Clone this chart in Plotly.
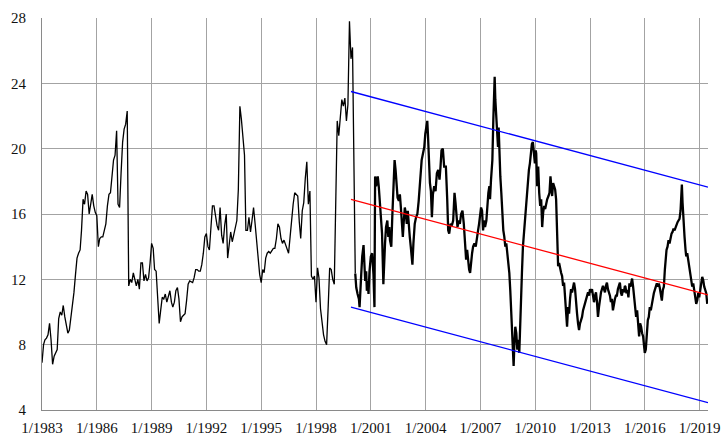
import pandas as pd
import plotly.graph_objects as go

# ---------------- data ----------------
monthly_start = "1983-01-01"
monthly_values = [
    6.9, 8.0, 8.3, 8.4, 8.6, 9.3, 8.3, 6.8, 7.3, 7.5, 7.7, 9.6,          # 1983
    10.0, 9.8, 10.4, 9.7, 9.2, 8.7, 8.9, 9.6, 10.4, 11.2, 12.3, 13.3,    # 1984
    13.6, 13.8, 15.0, 16.9, 16.6, 17.4, 17.2, 16.0, 16.6, 17.2, 16.5, 16.1,  # 1985
    15.9, 14.0, 14.5, 14.6, 14.6, 15.1, 15.4, 16.5, 17.2, 17.3, 18.6, 19.3,  # 1986
    19.6, 21.1, 16.6, 16.4, 18.5, 20.4, 21.2, 21.5, 22.3, 11.6, 12.0, 11.8,  # 1987
    12.4, 12.0, 11.6, 12.0, 11.4, 13.0, 13.0, 11.9, 12.3, 11.9, 12.1, 13.0,  # 1988
    14.2, 13.9, 12.6, 12.5, 10.8, 9.3, 10.1, 10.9, 10.8, 11.1, 10.6, 10.9,   # 1989
    11.3, 10.6, 10.3, 10.6, 11.3, 11.5, 10.8, 9.4, 9.7, 9.8, 9.9, 10.7,      # 1990
    11.7, 11.9, 11.85, 11.8, 12.1, 12.6, 12.6, 12.5, 12.5, 12.9, 13.6, 14.6, # 1991
    14.8, 14.0, 13.8, 15.2, 16.5, 16.5, 15.8, 15.3, 15.0, 16.4, 14.7, 14.2,  # 1992
    15.3, 16.0, 13.3, 14.1, 14.9, 14.3, 14.8, 15.2, 15.6, 17.5, 22.6, 21.8,  # 1993
    20.8, 19.6, 15.0, 15.0, 15.8, 14.9, 15.6, 16.4, 15.4, 14.4, 13.4, 12.3,  # 1994
    11.8, 12.6, 12.4, 13.3, 13.6, 13.7, 13.6, 13.8, 13.9, 13.9, 14.5, 15.4,  # 1995
    15.2, 14.5, 14.2, 14.4, 14.1, 13.8, 13.6, 14.6, 15.8, 16.6, 17.3, 17.2,  # 1996
    17.1, 15.5, 14.5, 16.2, 16.7, 18.2, 19.2, 16.6, 17.4, 12.2, 12.0, 12.2,  # 1997
    10.6, 12.7, 12.1, 10.2, 9.4, 8.6, 8.2, 8.0, 10.3, 12.7, 12.6, 12.0,      # 1998
    11.7, 16.5, 21.7, 20.8, 22.0, 23.0, 22.6, 23.1, 21.7, 22.7, 27.8, 25.5,  # 1999
    26.2,                                                                    # 2000
]

daily_years = [
    2000.150, 2000.204, 2000.277, 2000.349, 2000.385, 2000.421, 2000.476, 2000.530,
    2000.602, 2000.638, 2000.693, 2000.747, 2000.783, 2000.837, 2000.873, 2000.928,
    2001.000, 2001.072, 2001.145, 2001.199, 2001.235, 2001.289, 2001.325, 2001.380,
    2001.434, 2001.506, 2001.561, 2001.615, 2001.687, 2001.723, 2001.778, 2001.832,
    2001.904, 2001.958, 2002.013, 2002.049, 2002.121, 2002.175, 2002.230, 2002.302,
    2002.356, 2002.410, 2002.465, 2002.537, 2002.591, 2002.646, 2002.700, 2002.754,
    2002.808, 2002.863, 2002.917, 2002.971, 2003.025, 2003.080, 2003.134, 2003.188,
    2003.242, 2003.278, 2003.333, 2003.405, 2003.477, 2003.550, 2003.622, 2003.676,
    2003.731, 2003.785, 2003.857, 2003.929, 2003.984, 2004.038, 2004.092, 2004.128,
    2004.183, 2004.237, 2004.291, 2004.345, 2004.400, 2004.472, 2004.544, 2004.617,
    2004.689, 2004.761, 2004.816, 2004.870, 2004.942, 2005.014,
    2005.109, 2005.145, 2005.182, 2005.236, 2005.291, 2005.364, 2005.436, 2005.509,
    2005.582, 2005.636, 2005.691, 2005.745, 2005.818, 2005.873, 2005.945, 2006.018,
    2006.091, 2006.164, 2006.218, 2006.273, 2006.327, 2006.382, 2006.436, 2006.491,
    2006.545, 2006.600, 2006.673, 2006.745, 2006.800, 2006.873, 2006.927, 2006.982,
    2007.036, 2007.091, 2007.145, 2007.200, 2007.255, 2007.327, 2007.382, 2007.436,
    2007.491, 2007.527, 2007.582, 2007.655, 2007.709, 2007.745, 2007.782, 2007.818,
    2007.855, 2007.909, 2007.964, 2008.000, 2008.036, 2008.091, 2008.145, 2008.200,
    2008.255, 2008.309, 2008.364, 2008.418, 2008.473, 2008.527, 2008.582, 2008.636,
    2008.691, 2008.745, 2008.782, 2008.818, 2008.855, 2008.909, 2008.964, 2009.018,
    2009.073, 2009.127, 2009.164, 2009.218, 2009.273, 2009.327, 2009.382, 2009.436,
    2009.491, 2009.545, 2009.600, 2009.655, 2009.709, 2009.764, 2009.818, 2009.873,
    2009.927, 2009.982,
    2010.030, 2010.055, 2010.109, 2010.164, 2010.218, 2010.273, 2010.327, 2010.382,
    2010.436, 2010.491, 2010.545, 2010.600, 2010.655, 2010.727, 2010.782, 2010.836,
    2010.873, 2010.927, 2010.982, 2011.036, 2011.091, 2011.145, 2011.182, 2011.218,
    2011.255, 2011.309, 2011.364, 2011.418, 2011.473, 2011.527, 2011.582, 2011.636,
    2011.691, 2011.745, 2011.800, 2011.855, 2011.909, 2011.964, 2012.018, 2012.073,
    2012.127, 2012.182, 2012.236, 2012.291, 2012.345, 2012.400, 2012.455, 2012.509,
    2012.564, 2012.618, 2012.673, 2012.727, 2012.782, 2012.836, 2012.891, 2012.945,
    2013.000, 2013.055, 2013.109, 2013.164, 2013.218, 2013.273, 2013.327, 2013.382,
    2013.436, 2013.491, 2013.545, 2013.600, 2013.655, 2013.709, 2013.764, 2013.818,
    2013.873, 2013.927, 2013.982, 2014.036, 2014.091, 2014.145, 2014.200, 2014.255,
    2014.309, 2014.364, 2014.418, 2014.473, 2014.527, 2014.582, 2014.636, 2014.691,
    2014.745, 2014.800, 2014.855, 2014.909,
    2014.940, 2014.995, 2015.049, 2015.104, 2015.159, 2015.214, 2015.269, 2015.305,
    2015.360, 2015.415, 2015.470, 2015.525, 2015.580, 2015.634, 2015.689, 2015.744,
    2015.799, 2015.854, 2015.909, 2015.963, 2016.000, 2016.055, 2016.110, 2016.165,
    2016.219, 2016.274, 2016.329, 2016.384, 2016.439, 2016.494, 2016.548, 2016.603,
    2016.658, 2016.713, 2016.768, 2016.823, 2016.878, 2016.932, 2016.987, 2017.042,
    2017.097, 2017.133, 2017.188, 2017.243, 2017.298, 2017.353, 2017.408, 2017.463,
    2017.517, 2017.572, 2017.627, 2017.682, 2017.737, 2017.792, 2017.846, 2017.901,
    2017.956, 2017.993, 2018.029, 2018.066, 2018.102, 2018.139, 2018.175, 2018.230,
    2018.267, 2018.322, 2018.377, 2018.431, 2018.486, 2018.541, 2018.596, 2018.651,
    2018.706, 2018.760, 2018.815, 2018.870, 2018.925, 2018.980, 2019.035, 2019.090,
    2019.144, 2019.199, 2019.254, 2019.309, 2019.364, 2019.419,
]

daily_values = [
    12.35, 11.5, 11.1, 10.8, 10.3, 11.5, 12.3, 13.4,
    14.1, 13.2, 11.9, 12.5, 11.3, 11.9, 11.1, 12.5,
    13.4, 13.6, 12.3, 10.3, 18.3, 17.7, 18.1, 18.3,
    17.7, 16.6, 16.0, 14.8, 11.7, 13.4, 14.2, 15.2,
    15.6, 14.6, 15.2, 14.4, 14.0, 15.8, 17.2, 19.3,
    18.7, 17.7, 17.0, 16.8, 17.2, 16.4, 15.2, 14.6,
    15.6, 16.4, 16.0, 15.4, 16.2, 15.2, 14.6, 14.0,
    13.2, 12.9, 14.2, 15.4, 15.8, 16.0, 16.8, 17.7,
    18.5, 19.3, 19.7, 20.1, 20.9, 21.3, 21.7, 20.9,
    18.9, 17.9, 17.4, 15.8, 17.2, 17.7, 17.4, 18.5,
    18.7, 18.1, 18.9, 19.9, 20.0, 18.9,
    18.9, 18.1, 16.9, 15.0, 14.8, 15.4, 15.3, 15.6,
    17.3, 16.7, 16.0, 15.2, 15.6, 15.4, 16.0, 16.2,
    15.4, 13.6, 13.2, 13.8, 13.0, 12.6, 12.4, 13.2,
    13.6, 14.0, 14.2, 14.0, 14.6, 15.0, 15.4, 16.0,
    16.4, 16.2, 15.0, 15.6, 15.2, 15.6, 16.7, 17.3,
    17.7, 16.9, 18.1, 19.3, 21.8, 23.0, 24.4, 23.0,
    22.4, 21.3, 20.1, 21.3, 19.7, 18.3, 17.3, 16.0,
    15.0, 14.6, 14.0, 14.2, 13.6, 13.2, 12.4, 11.3,
    9.9, 9.1, 7.5, 6.7, 7.9, 9.1, 8.7, 7.7,
    8.3, 7.5, 8.7, 11.1, 12.4, 14.0, 14.8, 15.8,
    16.4, 16.9, 17.7, 18.7, 19.1, 19.9, 20.3, 20.4,
    19.9, 19.1,
    19.9, 19.7, 17.7, 18.9, 17.3, 16.5, 16.9, 15.2,
    16.1, 16.5, 16.3, 16.7, 16.9, 17.1, 17.3, 18.3,
    17.7, 17.1, 17.9, 17.7, 17.5, 16.9, 15.7, 13.6,
    12.8, 13.0, 12.6, 12.4, 12.2, 11.6, 11.8, 11.0,
    10.3, 9.1, 10.3, 9.9, 10.8, 11.4, 11.2, 11.6,
    11.8, 11.4, 10.3, 9.9, 9.3, 8.9, 9.3, 9.5,
    9.7, 10.1, 10.3, 10.6, 10.8, 11.0, 11.2, 11.0,
    11.4, 11.2, 11.4, 11.0, 10.6, 11.0, 11.2, 10.6,
    9.7, 10.3, 10.8, 11.2, 11.4, 11.6, 11.4, 11.2,
    11.6, 11.8, 11.4, 11.2, 11.0, 10.6, 10.8, 10.1,
    10.6, 10.8, 11.0, 11.0, 11.4, 11.6, 11.8, 11.2,
    11.0, 11.4, 11.2, 11.6,
    11.55, 11.15, 11.35, 10.9, 11.75, 11.55, 11.95, 12.05,
    11.55, 10.9, 10.3, 9.7, 10.1, 9.1, 8.5, 9.3,
    9.1, 8.7, 8.5, 7.9, 7.5, 7.7, 8.7, 9.5,
    9.7, 10.3, 10.1, 10.5, 10.9, 11.15, 11.35, 11.55,
    11.75, 11.55, 11.75, 11.45, 11.15, 10.7, 11.35, 11.55,
    12.6, 13.2, 13.8, 14.0, 14.4, 14.2, 14.6, 14.8,
    14.9, 15.1, 15.0, 15.2, 15.3, 15.5, 15.6, 15.7,
    16.2, 17.1, 17.8, 16.7, 15.6, 15.2, 14.6, 13.8,
    13.4, 13.6, 13.2, 12.8, 12.4, 12.0, 11.55, 11.75,
    11.35, 10.9, 10.5, 10.7, 11.15, 10.9, 11.55, 11.75,
    12.15, 11.95, 11.55, 11.35, 11.15, 10.5,
]

trend_dates = ["1999-12-01", "2019-06-18"]
trend_values = [16.9, 11.05]
band_offset = 6.6

x_range = ["1983-01-01", "2019-06-18"]
x_tick_years = list(range(1983, 2020, 3))
x_tick_labels = [f"1/{y}" for y in x_tick_years]
y_ticks = [4, 8, 12, 16, 20, 24, 28]


def year_to_date(y):
    yr = int(y)
    start = pd.Timestamp(year=yr, month=1, day=1)
    end = pd.Timestamp(year=yr + 1, month=1, day=1)
    return start + (end - start) * (y - yr)


monthly_dates = list(pd.date_range(monthly_start, periods=len(monthly_values), freq="MS"))
daily_dates = [year_to_date(y) for y in daily_years]

fig = go.Figure()

# monthly part (joined to first daily value)
fig.add_trace(go.Scatter(
    x=monthly_dates + [daily_dates[0]],
    y=monthly_values + [daily_values[0]],
    mode="lines", line=dict(color="black", width=1.3), hoverinfo="skip",
))
# daily part
fig.add_trace(go.Scatter(
    x=daily_dates, y=daily_values,
    mode="lines", line=dict(color="black", width=2.3), hoverinfo="skip",
))
# regression line and band
fig.add_trace(go.Scatter(x=trend_dates, y=trend_values, mode="lines",
                         line=dict(color="#ff0000", width=1.3)))
fig.add_trace(go.Scatter(x=trend_dates, y=[v + band_offset for v in trend_values], mode="lines",
                         line=dict(color="#0000ff", width=1.3)))
fig.add_trace(go.Scatter(x=trend_dates, y=[v - band_offset for v in trend_values], mode="lines",
                         line=dict(color="#0000ff", width=1.3)))

font = dict(family="Times New Roman, Liberation Serif, DejaVu Serif, serif", size=15, color="#111111")
grid = "#a3a3a3"

fig.update_layout(
    width=725, height=436,
    margin=dict(l=42, r=17, t=18, b=26, autoexpand=False),
    paper_bgcolor="white", plot_bgcolor="white",
    showlegend=False, font=font,
    xaxis=dict(
        type="date", range=x_range, automargin=False,
        tickvals=[f"{y}-01-01" for y in x_tick_years], ticktext=x_tick_labels,
        showgrid=True, gridcolor=grid, gridwidth=1,
        showline=True, linecolor="#8a8a8a", linewidth=1,
        ticks="", ticklabelstandoff=4, zeroline=False, tickfont=font,
    ),
    yaxis=dict(
        range=[4, 28], tickvals=y_ticks, automargin=False,
        showgrid=True, gridcolor=grid, gridwidth=1,
        showline=True, linecolor="#8a8a8a", linewidth=1,
        ticks="", ticklabelstandoff=12, zeroline=False, tickfont=font,
    ),
)

fig.write_html("out.html")
